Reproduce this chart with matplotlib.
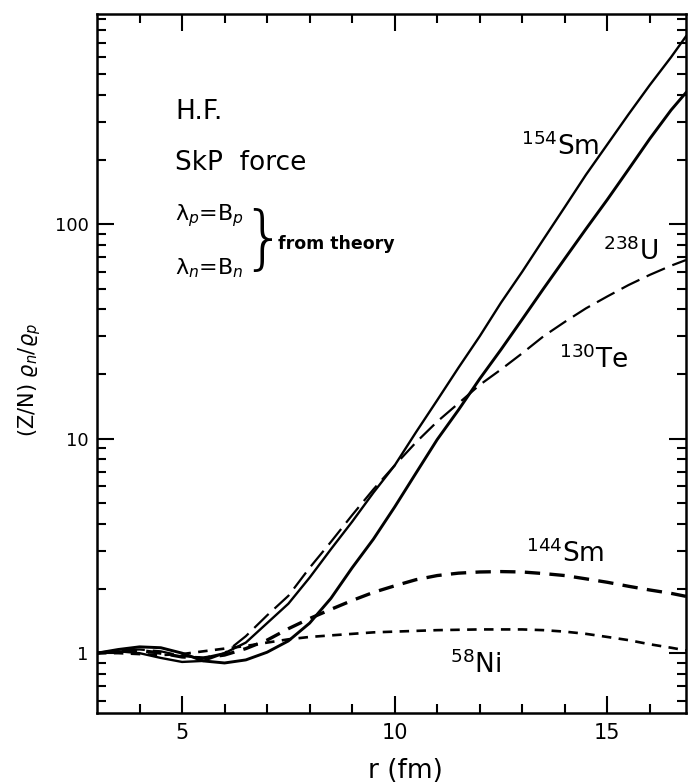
import matplotlib
matplotlib.use("Agg")
import matplotlib.pyplot as plt
from matplotlib.ticker import FixedLocator, LogLocator, NullFormatter
import numpy as np

# radius grid (fm) and ratio curves
r = [3.0, 3.5, 4.0, 4.5, 5.0, 5.5, 6.0, 6.5, 7.0, 7.5, 8.0, 8.5, 9.0, 9.5,
     10.0, 10.5, 11.0, 11.5, 12.0, 12.5, 13.0, 13.5, 14.0, 14.5, 15.0,
     15.5, 16.0, 16.5, 16.85]

sm154 = [1.00, 1.02, 1.00, 0.95, 0.91, 0.92, 1.00, 1.12, 1.38, 1.70, 2.25,
         3.05, 4.1, 5.6, 7.5, 10.7, 15.1, 21.4, 30, 43, 60, 85, 120, 170,
         235, 325, 445, 600, 750]
u238 = [1.00, 1.04, 1.07, 1.06, 1.00, 0.92, 0.90, 0.93, 1.01, 1.14, 1.38,
        1.80, 2.5, 3.4, 4.8, 6.9, 9.9, 13.6, 19, 26, 36, 50, 69, 95, 130,
        180, 250, 340, 410]
te130 = [1.00, 1.03, 1.04, 1.02, 0.97, 0.95, 1.00, 1.20, 1.50, 1.85, 2.5,
         3.3, 4.4, 5.8, 7.5, 9.6, 12.0, 14.6, 17.8, 21, 25, 30, 35, 40.5,
         46, 52, 58, 64, 68]
sm144 = [1.00, 1.02, 1.03, 1.00, 0.96, 0.95, 0.98, 1.05, 1.15, 1.30, 1.45,
         1.60, 1.76, 1.92, 2.06, 2.20, 2.30, 2.36, 2.39, 2.40, 2.39, 2.35,
         2.30, 2.22, 2.14, 2.05, 1.97, 1.90, 1.84]
ni58 = [1.00, 1.00, 0.99, 0.98, 0.99, 1.02, 1.05, 1.08, 1.12, 1.16, 1.19,
        1.21, 1.23, 1.25, 1.26, 1.27, 1.28, 1.285, 1.29, 1.29, 1.29, 1.28,
        1.26, 1.23, 1.19, 1.15, 1.10, 1.06, 1.03]

# curve labels: text, r position, y position
labels = [(r"$^{154}$Sm", 12.98, 210), (r"$^{238}$U", 14.91, 68),
          (r"$^{130}$Te", 13.87, 21.3), (r"$^{144}$Sm", 13.1, 2.66),
          (r"$^{58}$Ni", 11.31, 0.807)]

fig = plt.figure(figsize=(6.88, 7.82), dpi=100)
ax = fig.add_axes([0.141, 0.088, 0.856, 0.894])
ax.set_yscale("log")

ax.plot(r, sm154, color="black", lw=1.7)
ax.plot(r, u238, color="black", lw=2.1)
ax.plot(r, te130, color="black", lw=1.6, dashes=(9, 3.6))
ax.plot(r, sm144, color="black", lw=2.4, dashes=(4.6, 2.8))
ax.plot(r, ni58, color="black", lw=1.9, dashes=(3.6, 2.8))

for txt, x, y in labels:
    ax.text(x, y, txt, fontsize=19, va="baseline", ha="left")

ax.text(4.84, 333, "H.F.", fontsize=19, va="center")
ax.text(4.84, 192, "SkP  force", fontsize=19, va="center")
ax.text(4.84, 110, "λ$_p$=B$_p$", fontsize=16, va="center")
ax.text(4.84, 62.4, "λ$_n$=B$_n$", fontsize=16, va="center")
ax.text(6.9, 82.4, "}", fontsize=50, va="center", ha="center",
        fontweight="light")
ax.text(7.25, 81, "from theory", fontsize=12.5, va="center",
        fontweight="bold")

ax.set_xlim(3, 16.85)
ax.set_ylim(0.525, 953)

ax.xaxis.set_major_locator(FixedLocator([5, 10, 15]))
ax.xaxis.set_minor_locator(FixedLocator(np.arange(4, 17, 1)))
ax.set_xticklabels(["5", "10", "15"])
ax.yaxis.set_major_locator(FixedLocator([1, 10, 100]))
ax.yaxis.set_minor_locator(LogLocator(base=10, subs=np.arange(2, 10) * 1.0))
ax.yaxis.set_minor_formatter(NullFormatter())
ax.set_yticklabels(["1", "10", "100"])

ax.tick_params(which="both", direction="in", top=True, right=True, width=1.5)
ax.tick_params(which="major", length=12)
ax.tick_params(which="minor", length=6.5)
ax.tick_params(axis="x", labelsize=15, pad=7)
ax.tick_params(axis="y", labelsize=13, pad=6)
for s in ax.spines.values():
    s.set_linewidth(1.8)

ax.set_xlabel("r (fm)", fontsize=19, va="center")
ax.xaxis.set_label_coords(0.523, -0.082)
ax.set_ylabel(r"(Z/N) $\varrho_n/\varrho_p$", fontsize=15, va="center")
ax.yaxis.set_label_coords(-0.114, 0.476)

fig.savefig("out.png", dpi=100)
